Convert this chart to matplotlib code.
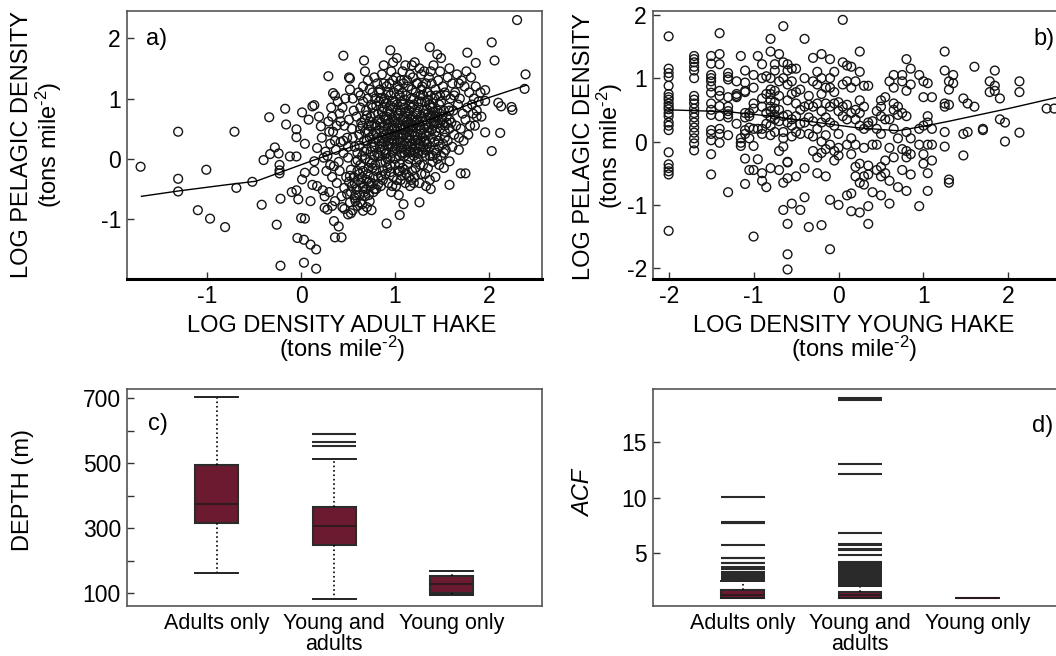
import matplotlib
matplotlib.use("Agg")
from matplotlib import pyplot as plt

plt.rcParams['font.family'] = ['Liberation Sans', 'DejaVu Sans']
plt.rcParams['mathtext.default'] = 'regular'
plt.rcParams['axes.unicode_minus'] = False

# ---- panel a: adult hake vs pelagic density ----
adult_pts = [
    (-1.71, -0.13), (-1.31, 0.45), (-1.31, -0.33), (-1.31, -0.54), (-1.01, -0.18), (-1.10, -0.85),
    (-0.97, -0.99), (-0.81, -1.13), (-0.71, 0.45), (-0.69, -0.48), (-0.52, -0.38), (-0.42, -0.76),
    (-0.34, 0.69), (-0.40, -0.02), (-0.33, 0.08), (-0.28, 0.19), (-0.24, 0.09), (-0.23, -0.10),
    (-0.23, -0.19), (-0.23, -0.24), (-0.22, -0.66), (-0.26, -1.09), (-0.22, -1.77), (-0.17, 0.83),
    (-0.16, 0.57), (-0.12, 0.04), (-0.10, -0.55), (-0.05, 0.04), (-0.05, -0.52), (-0.03, -0.67),
    (-0.05, 0.49), (-0.05, 0.36), (0.01, 0.77), (0.01, -0.34), (0.00, -0.98), (0.04, -0.99),
    (-0.04, -1.31), (0.03, -1.34), (0.03, -1.72), (0.10, -1.42), (0.16, -1.50), (0.16, -1.82),
    (0.10, -0.70), (0.04, -0.23), (0.04, 0.25), (0.08, 0.65), (0.12, 0.87), (0.14, 0.89),
    (0.19, 0.70), (0.21, 0.54), (0.17, 0.18), (0.14, -0.04), (0.14, -0.20), (0.12, -0.43),
    (0.17, -0.45), (0.23, -0.52), (0.25, -0.62), (0.25, -0.81), (0.28, -0.84), (0.33, -0.78),
    (0.35, -1.03), (0.40, -1.12), (0.36, -1.30), (0.43, -1.30), (0.29, 1.37), (0.34, 1.09),
    (0.45, 1.71), (0.51, 1.35), (0.52, 1.33), (0.67, 1.63), (0.95, 1.80), (1.02, 1.67),
    (1.37, 1.85), (1.45, 1.73), (1.49, 1.67), (1.77, 1.76), (1.86, 1.59), (2.03, 1.93),
    (2.06, 1.63), (2.30, 2.30), (2.39, 1.40), (2.38, 1.16), (2.10, 0.93), (2.13, 0.87),
    (2.24, 0.86), (2.25, 0.81), (2.12, 0.43), (2.03, 0.13), (1.96, 0.44), (1.87, 0.70),
    (1.96, 1.14), (1.96, 0.96), (1.58, -0.04), (1.58, -0.43), (1.70, -0.24), (1.75, -0.24),
    (1.68, 0.15), (0.91, -1.07), (1.05, -0.93), (1.26, -0.72), (0.75, -0.85), (0.66, -0.86),
    (0.53, -0.90), (0.46, -0.83),
    # dense cloud
    (0.31, 0.25), (0.29, 0.62), (0.32, 0.85), (0.28, 0.05), (0.33, -0.30), (0.30, -0.55),
    (0.36, 1.05), (0.34, 0.45), (0.37, 0.15), (0.35, -0.12), (0.38, -0.40), (0.36, -0.70),
    (0.41, 0.75), (0.39, 0.95), (0.42, 0.28), (0.40, -0.05), (0.43, -0.62), (0.41, -0.20),
    (0.46, 0.55), (0.44, 0.85), (0.47, 1.00), (0.45, 0.10), (0.48, -0.30), (0.46, -0.48), (0.44, -0.80),
    (0.51, 0.65), (0.49, 0.35), (0.52, 1.15), (0.50, 0.02), (0.53, -0.18), (0.51, -0.38), (0.49, -0.58),
    (0.52, -0.72), (0.50, -0.92),
    (0.56, 0.80), (0.54, 0.50), (0.57, 0.20), (0.55, 1.00), (0.58, -0.05), (0.56, -0.30), (0.54, -0.45),
    (0.57, -0.65), (0.55, -0.85),
    (0.61, 1.10), (0.59, 0.70), (0.62, 0.40), (0.60, 0.10), (0.63, -0.10), (0.61, -0.35), (0.59, -0.50),
    (0.62, -0.60), (0.60, -0.78),
    (0.66, 0.95), (0.64, 0.60), (0.67, 0.30), (0.65, 0.55), (0.68, 0.00), (0.66, -0.20), (0.64, -0.40),
    (0.67, -0.55), (0.65, -0.75), (0.66, 1.20),
    (0.71, 1.00), (0.69, 0.80), (0.72, 0.45), (0.70, 0.15), (0.73, -0.05), (0.71, -0.25), (0.69, -0.50),
    (0.72, -0.60), (0.70, -0.80), (0.71, 1.30),
    (0.76, 1.10), (0.74, 0.70), (0.77, 0.40), (0.75, 0.20), (0.78, 0.05), (0.76, -0.15), (0.74, -0.45),
    (0.77, -0.55), (0.75, 0.90),
    (0.81, 1.25), (0.79, 1.00), (0.82, 0.75), (0.80, 0.55), (0.83, 0.30), (0.81, 0.10), (0.79, -0.10),
    (0.82, -0.30), (0.80, -0.50), (0.84, 0.20),
    (0.86, 1.40), (0.84, 1.15), (0.87, 0.85), (0.85, 0.60), (0.88, 0.45), (0.86, 0.25), (0.84, 0.05),
    (0.87, -0.20), (0.85, -0.45), (0.88, 0.95),
    (0.91, 1.20), (0.89, 1.00), (0.92, 0.80), (0.90, 0.65), (0.93, 0.50), (0.91, 0.35), (0.89, 0.15),
    (0.92, 0.00), (0.90, -0.25), (0.93, -0.40), (0.91, 0.70),
    (0.96, 1.45), (0.94, 1.25), (0.97, 0.95), (0.95, 0.75), (0.98, 0.55), (0.96, 0.40), (0.94, 0.25),
    (0.97, 0.10), (0.95, -0.10), (0.98, -0.30), (0.96, -0.55), (0.94, 0.60),
    (1.01, 1.35), (0.99, 1.10), (1.02, 0.90), (1.00, 0.70), (1.03, 0.60), (1.01, 0.45), (0.99, 0.30),
    (1.02, 0.15), (1.00, 0.00), (1.03, -0.20), (1.01, -0.45), (0.99, 0.50), (1.02, 0.80),
    (1.06, 1.30), (1.04, 1.15), (1.07, 0.95), (1.05, 0.80), (1.08, 0.65), (1.06, 0.50), (1.04, 0.35),
    (1.07, 0.20), (1.05, 0.05), (1.08, -0.15), (1.06, -0.35), (1.04, -0.60), (1.07, 0.40),
    (1.11, 1.55), (1.09, 1.25), (1.12, 1.05), (1.10, 0.85), (1.13, 0.70), (1.11, 0.55), (1.09, 0.40),
    (1.12, 0.25), (1.10, 0.10), (1.13, -0.10), (1.11, -0.40), (1.09, -0.75), (1.12, 0.60),
    (1.16, 1.40), (1.14, 1.20), (1.17, 1.00), (1.15, 0.80), (1.18, 0.65), (1.16, 0.50), (1.14, 0.35),
    (1.17, 0.20), (1.15, 0.00), (1.18, -0.20), (1.16, -0.45), (1.14, 0.75),
    (1.21, 1.60), (1.19, 1.35), (1.22, 1.10), (1.20, 0.90), (1.23, 0.75), (1.21, 0.60), (1.19, 0.45),
    (1.22, 0.30), (1.20, 0.15), (1.23, -0.05), (1.21, -0.30), (1.19, 0.55),
    (1.26, 1.50), (1.24, 1.25), (1.27, 1.05), (1.25, 0.85), (1.28, 0.70), (1.26, 0.55), (1.24, 0.40),
    (1.27, 0.20), (1.25, 0.00), (1.28, -0.25), (1.26, -0.40), (1.24, 0.65),
    (1.31, 1.45), (1.29, 1.20), (1.32, 0.95), (1.30, 0.80), (1.33, 0.65), (1.31, 0.50), (1.29, 0.35),
    (1.32, 0.15), (1.30, -0.10), (1.33, -0.45), (1.31, 0.75),
    (1.36, 1.35), (1.34, 1.10), (1.37, 0.90), (1.35, 0.75), (1.38, 0.60), (1.36, 0.45), (1.34, 0.25),
    (1.37, 0.05), (1.35, -0.15), (1.38, -0.50),
    (1.41, 1.55), (1.39, 1.25), (1.42, 1.00), (1.40, 0.85), (1.43, 0.70), (1.41, 0.55), (1.39, 0.35),
    (1.42, 0.15), (1.40, -0.05), (1.43, -0.30), (1.41, 0.60),
    (1.46, 1.30), (1.44, 1.05), (1.47, 0.90), (1.45, 0.70), (1.48, 0.50), (1.46, 0.30), (1.44, 0.10),
    (1.47, -0.10), (1.45, 0.80),
    (1.51, 1.20), (1.49, 0.95), (1.52, 0.80), (1.50, 0.65), (1.53, 0.45), (1.51, 0.25), (1.49, 0.05),
    (1.52, -0.15),
    (1.56, 1.35), (1.54, 1.05), (1.57, 0.85), (1.55, 0.70), (1.58, 0.50), (1.56, 0.30), (1.54, 0.15),
    (1.61, 1.25), (1.59, 1.00), (1.62, 0.80), (1.60, 0.60), (1.63, 0.40), (1.61, 0.20),
    (1.66, 1.40), (1.64, 1.10), (1.67, 0.90), (1.65, 0.55), (1.68, 0.35),
    (1.71, 1.30), (1.69, 1.00), (1.72, 0.75), (1.70, 0.50), (1.73, 0.30),
    (1.76, 1.45), (1.74, 1.20), (1.77, 0.85), (1.75, 0.65), (1.78, 0.40),
    (1.81, 1.35), (1.79, 1.10), (1.82, 0.90), (1.80, 0.55), (1.83, 0.75),
    (1.86, 1.20), (1.84, 1.00), (1.87, 0.80), (1.85, 0.55),
    (1.91, 1.10), (1.89, 0.95), (1.92, 0.70),
]
# extra points in the black core of the cloud
adult_core = [
    (0.63, 0.85), (0.68, 0.65), (0.73, 0.35), (0.78, 0.75), (0.83, 0.95), (0.88, 0.70), (0.93, 0.30),
    (0.98, 0.85), (1.03, 0.40), (1.08, 0.90), (1.13, 0.45), (1.18, 0.85), (1.23, 0.50), (1.28, 0.95),
    (1.33, 0.40), (1.38, 0.85), (1.43, 0.45), (1.48, 0.75), (1.53, 0.35), (1.58, 0.80),
    (0.62, 0.22), (0.67, 0.12), (0.72, -0.15), (0.77, 0.28), (0.82, 0.05), (0.87, 0.35), (0.92, 0.22),
    (0.97, 0.32), (1.02, 0.25), (1.07, 0.10), (1.12, 0.35), (1.17, 0.12), (1.22, 0.22), (1.27, 0.30),
    (1.32, 0.05), (1.37, 0.20), (1.42, 0.28), (1.47, 0.20), (1.52, 0.10),
    (0.63, 0.50), (0.68, 0.45), (0.73, 0.62), (0.78, 0.58), (0.83, 0.48), (0.88, 0.55), (0.93, 0.65),
    (0.98, 0.65), (1.03, 0.72), (1.08, 0.55), (1.13, 0.62), (1.18, 0.55), (1.23, 0.62), (1.28, 0.48),
    (1.33, 0.55), (1.38, 0.68), (1.43, 0.62), (1.48, 0.60), (1.53, 0.55), (1.58, 0.65),
    (0.63, 1.05), (0.73, 1.15), (0.83, 1.10), (0.88, 1.25), (0.93, 1.10), (0.98, 1.30), (1.03, 1.20),
    (1.08, 1.10), (1.13, 1.30), (1.18, 1.15), (1.23, 1.25), (1.28, 1.15), (1.33, 1.25), (1.38, 1.05),
    (1.43, 1.15), (1.48, 1.05), (1.53, 1.10), (1.63, 1.05),
    (0.52, -0.28), (0.57, -0.40), (0.62, -0.25), (0.67, -0.45), (0.72, -0.38), (0.77, -0.30),
    (0.82, -0.42), (0.87, -0.35), (0.92, -0.15), (0.97, -0.45), (1.02, -0.35), (1.07, -0.28),
    (1.12, -0.25), (1.17, -0.35), (1.22, -0.15), (1.27, -0.10), (1.32, -0.25), (1.37, -0.35),
    (0.53, -0.55), (0.58, -0.70), (0.63, -0.72), (0.68, -0.62), (0.73, -0.70), (0.78, -0.50),
    (0.58, -0.60), (0.66, -0.48),
    (0.45, 0.30), (0.50, 0.20), (0.55, 0.35), (0.60, -0.02), (0.65, 0.05), (0.70, 0.30), (0.75, -0.08),
    (0.80, 0.42), (0.85, -0.05), (0.90, 0.08), (0.95, 0.02), (1.00, 0.18), (1.05, -0.08), (1.10, 0.05),
    (1.15, 0.10), (1.20, 0.05), (1.25, 0.10), (1.30, 0.20), (1.35, 0.15), (1.40, 0.05), (1.45, 0.00),
    (0.68, 1.45), (0.78, 1.35), (0.88, 1.55), (0.98, 1.60), (1.08, 1.45), (1.18, 1.55), (1.28, 1.40),
    (1.38, 1.45), (1.48, 1.45), (1.58, 1.50), (1.68, 1.25),
    (0.22, 0.35), (0.26, 0.12), (0.30, 0.45), (0.33, 0.70), (0.38, 0.55), (0.42, 0.62), (0.24, 0.02),
    (0.27, -0.20), (0.31, -0.10), (0.36, 0.30),
    (0.72, 0.55), (0.76, 0.85), (0.79, 0.45), (0.83, 0.65), (0.86, 0.78), (0.89, 0.40), (0.92, 0.58),
    (0.95, 0.88), (0.97, 0.48), (1.00, 0.62), (1.02, 0.52), (1.04, 0.75), (1.06, 0.28), (1.09, 0.68),
    (1.11, 0.78), (1.14, 0.52), (1.16, 0.30), (1.19, 0.70), (1.21, 0.38), (1.24, 0.78), (1.26, 0.25),
    (1.29, 0.62), (1.31, 0.28), (1.34, 0.82), (1.36, 0.52), (1.39, 0.48), (1.41, 0.78), (1.44, 0.38),
    (0.74, 0.12), (0.78, 0.20), (0.81, 0.35), (0.85, 0.15), (0.88, 0.28), (0.91, 0.10), (0.94, 0.42),
    (0.97, 0.20), (1.00, 0.38), (1.03, 0.30), (1.06, 0.18), (1.09, 0.48), (1.12, 0.15), (1.15, 0.40),
    (1.18, 0.25), (1.21, 0.12), (1.24, 0.32), (1.27, 0.42), (1.30, 0.10), (1.33, 0.30),
    (0.70, 0.72), (0.75, 0.55), (0.80, 0.88), (0.85, 1.00), (0.90, 0.92), (0.95, 1.05), (1.00, 0.95),
    (1.05, 1.05), (1.10, 0.98), (1.15, 0.90), (1.20, 1.00), (1.25, 0.95), (1.30, 1.05), (1.35, 0.98),
    (1.40, 0.92), (1.45, 0.58), (1.50, 0.70), (1.55, 0.60),
    (0.60, -0.20), (0.65, -0.30), (0.70, -0.35), (0.75, -0.40), (0.80, -0.20), (0.85, -0.28),
    (0.90, -0.05), (0.95, -0.22), (1.00, -0.10), (1.05, -0.20), (1.10, -0.18), (1.15, -0.30), (1.20, -0.40),
]
adult_fit_x = [-1.70, -1.30, -0.80, -0.48, 0.10, 0.50, 1.00, 1.40, 1.87, 2.40]
adult_fit_y = [-0.62, -0.53, -0.43, -0.37, -0.04, 0.18, 0.45, 0.67, 0.95, 1.22]

# ---- panel b: young hake vs pelagic density, columns of x ----
young_cols = [
    (-2.00, [1.66, 1.15, 1.08, 1.02, 0.88, 0.75, 0.70, 0.66, 0.60, 0.55, 0.51, 0.45, 0.40, 0.30,
             0.25, 0.18, -0.17, -0.36, -0.42, -0.47, -0.52, -1.41]),
    (-1.70, [1.35, 1.30, 1.25, 1.18, 1.12, 1.00, 0.72, 0.66, 0.60, 0.52, 0.45, 0.38, 0.30, 0.22,
             0.14, 0.05, -0.03, -0.14]),
    (-1.50, [1.35, 1.23, 1.05, 1.00, 0.95, 0.87, 0.77, 0.60, 0.50, 0.42, 0.18, 0.12, 0.02, -0.20, -0.52]),
    (-1.40, [1.71, 1.38, 1.22, 0.80, 0.72, 0.56, 0.40, 0.20, 0.12, -0.02]),
    (-1.30, [1.08, 1.02, 0.98, 0.70, 0.55, 0.48, 0.43, 0.38, 0.10, -0.80]),
    (-1.20, [0.95, 0.75, 0.72, 0.70, 0.28]),
    (-1.15, [1.35, 0.05, -0.02, -0.07]),
    (-1.10, [1.12, 0.93, 0.80, 0.78, 0.45, 0.38, 0.18, 0.12, -0.27, -0.67]),
    (-1.05, [0.45, 0.40, 0.22, 0.05, -0.45]),
    (-1.00, [1.05, 0.85, 0.60, 0.52, 0.20, -0.07, -0.45, -1.50]),
    (-0.95, [1.35, 0.20, -0.28]),
    (-0.90, [1.22, 1.00, 0.68, 0.55, 0.20, 0.12, -0.50, -0.62]),
    (-0.85, [1.03, 0.75, 0.45, 0.28, -0.72]),
    (-0.80, [1.62, 1.42, 1.00, 0.82, 0.75, 0.65, 0.55, 0.48, 0.38, 0.25, 0.10, -0.42]),
    (-0.75, [1.22, 1.12, 0.80, 0.62, 0.52, 0.42, 0.35, 0.15]),
    (-0.70, [1.38, 0.95, 0.72, 0.50, 0.32, -0.15, -0.45]),
    (-0.65, [1.82, 1.25, 1.00, 0.40, 0.15, 0.05, -0.08, -0.65, -1.08]),
    (-0.60, [1.22, 1.12, 0.90, 0.65, 0.42, 0.30, -0.32, -0.33, -0.58, -1.30, -1.78, -2.02]),
    (-0.55, [1.15, 0.95, 0.75, 0.35, 0.25, 0.08, -0.98]),
    (-0.50, [1.15, 0.78, 0.60, 0.40, 0.15, -0.55]),
    (-0.45, [0.82, 0.50, 0.28, 0.12, -1.08]),
    (-0.40, [1.62, 1.00, 0.55, 0.30, -0.42, -0.88]),
    (-0.35, [0.72, 0.58, 0.38, 0.12, -1.35]),
    (-0.30, [1.32, 0.95, 0.55, 0.32, 0.08, -0.15]),
    (-0.25, [1.10, 0.90, 0.60, 0.20, -0.25, -0.50]),
    (-0.20, [1.38, 1.00, 0.75, 0.48, 0.30, 0.00, -0.18, -1.32]),
    (-0.15, [0.85, 0.60, 0.38, 0.10, -0.12, -0.55]),
    (-0.10, [1.30, 1.00, 0.85, 0.55, 0.30, -0.05, -0.92, -1.70]),
    (-0.05, [1.10, 0.78, 0.60, 0.25, -0.15, -0.30]),
    (0.00, [0.62, 0.48, 0.12, -0.10, -0.22, -1.00]),
    (0.05, [1.92, 1.25, 0.90, 0.55, 0.40]),
    (0.10, [1.20, 0.95, 0.58, 0.35, -0.05, -0.85]),
    (0.15, [1.18, 0.85, 0.45, 0.05, -0.20, -0.82, -1.10]),
    (0.20, [0.95, 0.50, 0.35, -0.05, -0.40, -0.55]),
    (0.25, [1.42, 1.10, 0.65, 0.45, 0.25, -0.35, -0.65, -1.12]),
    (0.30, [0.88, 0.55, 0.20, -0.10, -0.55, -0.68]),
    (0.35, [0.88, 0.30, 0.25, -0.38, -0.52, -1.02, -1.30]),
    (0.40, [0.32, -0.05, -0.80]),
    (0.45, [0.48, 0.20, -0.05, -0.45]),
    (0.50, [0.65, 0.55, 0.40, 0.12, -0.40, -0.55, -0.85]),
    (0.55, [0.70, 0.35, -0.30, -0.50]),
    (0.60, [0.95, 0.35, -0.10, -0.62, -0.98]),
    (0.65, [1.05, 0.85, 0.60, 0.50, 0.20, -0.25]),
    (0.70, [0.55, 0.42, 0.05, -0.72]),
    (0.75, [1.05, 0.95, 0.45, -0.12, -0.45]),
    (0.80, [1.30, 0.80, 0.40, 0.15, -0.15, -0.25, -0.78]),
    (0.85, [1.15, 0.90, 0.05, -0.20, -0.52]),
    (0.95, [1.05, 0.20, -0.05, -1.02]),
    (1.00, [0.95, 0.70, 0.25, -0.20, -0.35]),
    (1.05, [0.92, 0.40, 0.30, -0.05, -0.50, -0.78]),
    (1.10, [0.70, 0.20, -0.05, -0.30]),
    (1.25, [1.42, 1.12, 0.60, 0.55, 0.15, -0.08]),
    (1.30, [0.95, 0.82, 0.58, -0.60, -0.65]),
    (1.35, [1.05, 0.92]),
    (1.47, [0.68, 0.12, -0.22]),
    (1.52, [0.60, 0.15]),
    (1.60, [1.18, 0.55]),
    (1.70, [0.18, 0.20]),
    (1.78, [0.95, 0.78]),
    (1.84, [1.12, 0.88, 0.80]),
    (1.90, [0.35, 0.68]),
    (1.96, [0.30, 0.00]),
    (2.13, [0.95, 0.78, 0.14]),
    (2.45, [0.52]),
    (2.54, [0.52]),
]
young_fit_x = [-2.00, -1.30, -0.80, -0.30, 0.20, 0.70, 1.00, 1.30, 2.00, 2.65]
young_fit_y = [0.50, 0.47, 0.40, 0.31, 0.22, 0.17, 0.24, 0.32, 0.52, 0.72]

# ---- panels c and d: box plot summaries ----
groups = ['Adults only', 'Young and\nadults', 'Young only']

depth_q1 = [317, 249, 102]
depth_med = [375, 306, 128]
depth_q3 = [495, 367, 154]
depth_lo = [161, 84, 94]
depth_hi = [703, 512, 168]
depth_out = [[], [589, 567, 553], []]

acf_q1 = [1.00, 1.03, 1.0]
acf_med = [1.30, 1.30, 1.0]
acf_q3 = [1.75, 1.53, 1.0]
acf_lo = [0.98, 1.00, 1.0]
acf_hi = [2.50, 2.10, 1.0]
acf_out = [
    [10.05, 7.82, 7.76, 7.72, 5.80, 4.62, 4.57, 4.18, 4.12, 3.75, 3.68, 3.60,
     3.30, 3.20, 3.10, 3.00, 2.90, 2.80, 2.70, 2.60],
    [18.95, 18.75, 13.0, 12.15, 6.85, 5.85, 5.78, 5.42, 5.35, 4.90, 4.20, 4.10, 4.00,
     3.90, 3.80, 3.72, 3.55, 3.45, 3.35, 3.25, 3.15, 3.05, 2.95, 2.85, 2.75, 2.65,
     2.55, 2.45, 2.35, 2.25],
    [],
]

units = '(tons mile$^{\u2010 2}$)'

W, H = 1056, 656
fig = plt.figure(figsize=(W / 100, H / 100), dpi=100)


def px_axes(left, top, right, bottom):
    return fig.add_axes([left / W, 1 - bottom / H, (right - left) / W, (bottom - top) / H])


def style(ax, black_bottom):
    for s in ax.spines.values():
        s.set_color('#555555')
        s.set_linewidth(1.2)
    if black_bottom:
        ax.spines['bottom'].set_color('black')
        ax.spines['bottom'].set_linewidth(2.2)
    ax.tick_params(direction='in', length=5, width=1, color='#333333', labelsize=16.5, pad=4)


ax_a = px_axes(126.5, 11, 541.5, 279)
ax_b = px_axes(652.5, 11, 1067, 279)
ax_c = px_axes(126.5, 389, 541.5, 606)
ax_d = px_axes(652.5, 389, 1067, 606)

# scatter a
a_all = adult_pts + adult_core
a_x = [p[0] for p in a_all]
a_y = [p[1] for p in a_all]
ax_a.scatter(a_x, a_y, s=40, facecolors='none', edgecolors='#151515', linewidths=1.0, clip_on=False)
ax_a.plot(adult_fit_x, adult_fit_y, color='black', lw=1.0)
ax_a.set_xlim(-1.86, 2.56)
ax_a.set_ylim(-1.99, 2.45)
ax_a.set_xticks([-1, 0, 1, 2])
ax_a.set_yticks([-1, 0, 1, 2])
style(ax_a, True)
ax_a.text(0.048, 0.935, 'a)', transform=ax_a.transAxes, fontsize=17, va='top', ha='left')

# scatter b
b_x = [x for x, ys in young_cols for _ in ys]
b_y = [y for x, ys in young_cols for y in ys]
ax_b.scatter(b_x, b_y, s=40, facecolors='none', edgecolors='#151515', linewidths=1.0, clip_on=False)
ax_b.plot(young_fit_x, young_fit_y, color='black', lw=1.0)
ax_b.set_xlim(-2.19, 2.69)
ax_b.set_ylim(-2.17, 2.06)
ax_b.set_xticks([-2, -1, 0, 1, 2])
ax_b.set_yticks([-2, -1, 0, 1, 2])
style(ax_b, True)
ax_b.text(0.971, 0.935, 'b)', transform=ax_b.transAxes, fontsize=17, va='top', ha='right')


def boxes(ax, q1, med, q3, lo, hi, out):
    stats = []
    for i in range(3):
        stats.append(dict(q1=q1[i], med=med[i], q3=q3[i], whislo=lo[i], whishi=hi[i], fliers=out[i]))
    ax.bxp(stats, positions=[1, 2, 3], widths=0.365, capwidths=0.365, patch_artist=True,
           boxprops=dict(facecolor='#6b1a30', edgecolor='#2b2b2b', linewidth=1.5),
           medianprops=dict(color='#2a1a1e', linewidth=1.3),
           whiskerprops=dict(color='black', linestyle=':', linewidth=1.2),
           capprops=dict(color='#222222', linewidth=1.4),
           flierprops=dict(marker='_', markersize=31, markeredgecolor='#2a2a2a', markeredgewidth=1.5))
    ax.set_xlim(0.23, 3.765)
    ax.set_xticks([1, 2, 3])
    ax.set_xticklabels(groups)
    style(ax, False)
    ax.tick_params(axis='x', length=0, pad=5, labelsize=15.5)
    for lbl in ax.get_xticklabels():
        lbl.set_linespacing(0.98)


boxes(ax_c, depth_q1, depth_med, depth_q3, depth_lo, depth_hi, depth_out)
ax_c.set_ylim(61, 728.6)
ax_c.set_yticks([100, 200, 300, 400, 500, 600, 700])
ax_c.set_yticklabels(['100', '', '300', '', '500', '', '700'])
ax_c.text(0.053, 0.89, 'c)', transform=ax_c.transAxes, fontsize=17, va='top', ha='left')

boxes(ax_d, acf_q1, acf_med, acf_q3, acf_lo, acf_hi, acf_out)
ax_d.set_ylim(0.28, 19.77)
ax_d.set_yticks([5, 10, 15])
ax_d.text(0.967, 0.88, 'd)', transform=ax_d.transAxes, fontsize=17, va='top', ha='right')


# axis titles placed where they sit in the original
def ftext(x, y, s, **kw):
    fig.text(x / W, 1 - y / H, s, ha='center', va='center', fontsize=17, **kw)


ftext(37.5, 145, 'LOG PELAGIC DENSITY\n' + units, rotation=90, linespacing=1.0)
ftext(599, 146, 'LOG PELAGIC DENSITY\n' + units, rotation=90, linespacing=1.0)
ftext(342, 339.5, 'LOG DENSITY ADULT HAKE\n' + units, linespacing=0.88)
ftext(854, 339.5, 'LOG DENSITY YOUNG HAKE\n' + units, linespacing=0.88)
ftext(23, 490, 'DEPTH (m)', rotation=90)
ftext(584, 493, 'ACF', rotation=90, style='italic')

fig.savefig('out.png', dpi=100)
